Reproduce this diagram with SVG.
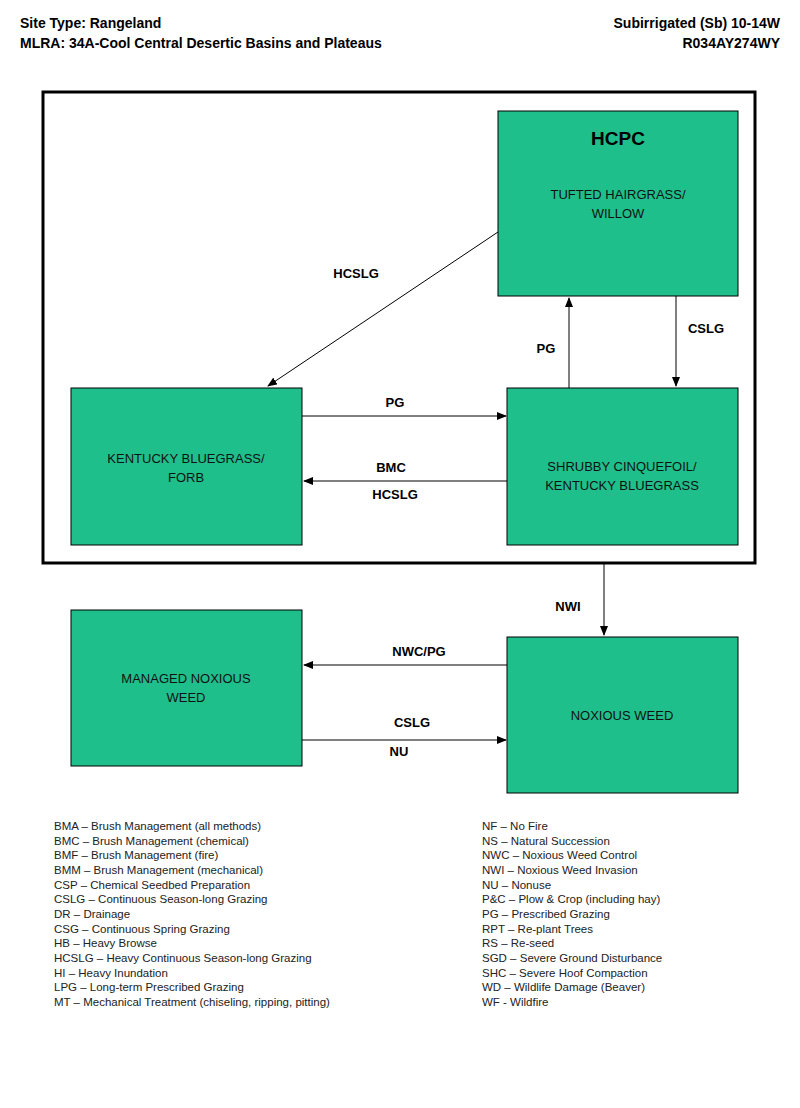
<svg xmlns="http://www.w3.org/2000/svg" width="800" height="1108" viewBox="0 0 800 1108">
<style>
.h{font-family:"Liberation Sans Narrow","Liberation Sans",Arial,sans-serif;font-weight:bold;font-size:14px;fill:#000}
.box{fill:#1fbf8c;stroke:#000;stroke-width:1}
.t{font-family:"Liberation Sans",Arial,sans-serif;font-size:13px;fill:#111;text-anchor:middle}
.l{font-family:"Liberation Sans",Arial,sans-serif;font-size:13px;font-weight:bold;fill:#000;text-anchor:middle}
.lg{font-family:"Liberation Sans",Arial,sans-serif;font-size:11.5px;fill:#222}
.c{stroke:#000;stroke-width:1;fill:none;marker-end:url(#a)}
</style>
<defs><marker id="a" markerWidth="10" markerHeight="8" refX="9" refY="4" orient="auto" markerUnits="userSpaceOnUse"><path d="M0,0 L10,4 L0,8 Z" fill="#000"/></marker></defs>
<rect width="800" height="1108" fill="#fff"/>
<text class="h" x="20" y="28">Site Type:  Rangeland</text>
<text class="h" x="20" y="48">MLRA: 34A-Cool Central Desertic Basins and Plateaus</text>
<text class="h" x="780" y="28" text-anchor="end">Subirrigated (Sb) 10-14W</text>
<text class="h" x="780" y="48" text-anchor="end">R034AY274WY</text>
<rect x="43" y="92" width="712" height="471" fill="none" stroke="#000" stroke-width="3"/>
<g id="hcpc"><rect class="box" x="498" y="111" width="240" height="185"/>
<text x="618" y="145" text-anchor="middle" font-family="Liberation Sans,Arial,sans-serif" font-weight="bold" font-size="19">HCPC</text>
<text class="t" x="618" y="199">TUFTED HAIRGRASS/</text><text class="t" x="618" y="218">WILLOW</text></g>
<g id="kbf"><rect class="box" x="71" y="388" width="231" height="157"/>
<text class="t" x="186" y="463">KENTUCKY BLUEGRASS/</text><text class="t" x="186" y="482">FORB</text></g>
<g id="scb"><rect class="box" x="507" y="388" width="231" height="157"/>
<text class="t" x="622" y="471">SHRUBBY CINQUEFOIL/</text><text class="t" x="622" y="490">KENTUCKY BLUEGRASS</text></g>
<g id="mnw"><rect class="box" x="71" y="610" width="231" height="156"/>
<text class="t" x="186" y="683">MANAGED NOXIOUS</text><text class="t" x="186" y="702">WEED</text></g>
<g id="nw"><rect class="box" x="507" y="637" width="231" height="156"/>
<text class="t" x="622" y="720">NOXIOUS WEED</text></g>
<g id="connectors">
<line class="c" x1="498" y1="232" x2="268" y2="386"/>
<line class="c" x1="569" y1="388" x2="569" y2="298"/>
<line class="c" x1="676" y1="296" x2="676" y2="386"/>
<line class="c" x1="302" y1="416" x2="506" y2="416"/>
<line class="c" x1="507" y1="481" x2="304" y2="481"/>
<line class="c" x1="604" y1="563" x2="604" y2="635"/>
<line class="c" x1="507" y1="665" x2="304" y2="665"/>
<line class="c" x1="302" y1="740" x2="506" y2="740"/>
<text class="l" x="356" y="278">HCSLG</text>
<text class="l" x="546" y="353">PG</text>
<text class="l" x="706" y="333">CSLG</text>
<text class="l" x="395" y="407">PG</text>
<text class="l" x="391" y="472">BMC</text>
<text class="l" x="395" y="499">HCSLG</text>
<text class="l" x="568" y="611">NWI</text>
<text class="l" x="419" y="656">NWC/PG</text>
<text class="l" x="412" y="727">CSLG</text>
<text class="l" x="399" y="756">NU</text>
</g>
<g class="lg">
<text x="54" y="830">BMA – Brush Management (all methods)</text>
<text x="54" y="845">BMC – Brush Management (chemical)</text>
<text x="54" y="859">BMF – Brush Management (fire)</text>
<text x="54" y="874">BMM – Brush Management (mechanical)</text>
<text x="54" y="889">CSP – Chemical Seedbed Preparation</text>
<text x="54" y="903">CSLG – Continuous Season-long Grazing</text>
<text x="54" y="918">DR – Drainage</text>
<text x="54" y="933">CSG – Continuous Spring Grazing</text>
<text x="54" y="947">HB – Heavy Browse</text>
<text x="54" y="962">HCSLG – Heavy Continuous Season-long Grazing</text>
<text x="54" y="977">HI – Heavy Inundation</text>
<text x="54" y="991">LPG – Long-term Prescribed Grazing</text>
<text x="54" y="1006">MT – Mechanical Treatment (chiseling, ripping, pitting)</text>
<text x="482" y="830">NF – No Fire</text>
<text x="482" y="845">NS – Natural Succession</text>
<text x="482" y="859">NWC – Noxious Weed Control</text>
<text x="482" y="874">NWI – Noxious Weed Invasion</text>
<text x="482" y="889">NU – Nonuse</text>
<text x="482" y="903">P&amp;C – Plow &amp; Crop (including hay)</text>
<text x="482" y="918">PG – Prescribed Grazing</text>
<text x="482" y="933">RPT – Re-plant Trees</text>
<text x="482" y="947">RS – Re-seed</text>
<text x="482" y="962">SGD – Severe Ground Disturbance</text>
<text x="482" y="977">SHC – Severe Hoof Compaction</text>
<text x="482" y="991">WD – Wildlife Damage (Beaver)</text>
<text x="482" y="1006">WF - Wildfire</text>
</g>
</svg>
